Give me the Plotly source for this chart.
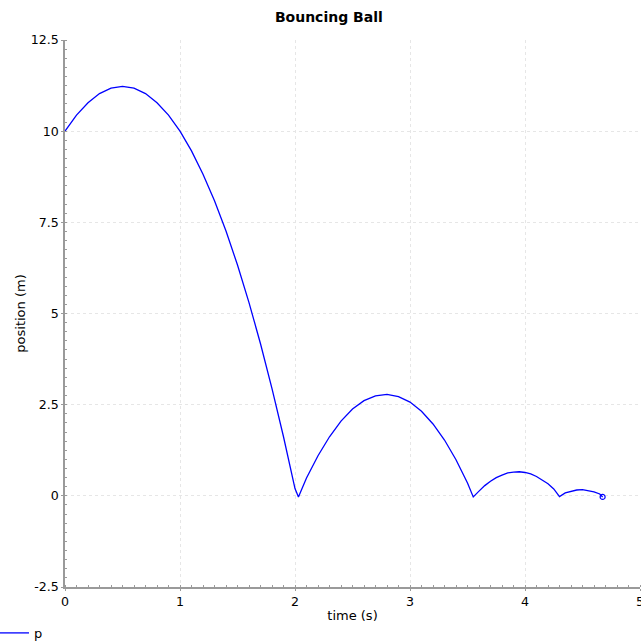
import plotly.graph_objects as go

# time (s) and position (m)
t = [0.0, 0.1, 0.2, 0.3, 0.4, 0.5, 0.6, 0.7, 0.8, 0.9, 1.0,
     1.1, 1.2, 1.3, 1.4, 1.5, 1.6, 1.7, 1.8, 1.9, 2.0, 2.03,
     2.1, 2.2, 2.3, 2.4, 2.5, 2.6, 2.7, 2.8, 2.9, 3.0,
     3.1, 3.2, 3.3, 3.4, 3.5, 3.55,
     3.6, 3.65, 3.7, 3.75, 3.8, 3.85, 3.9, 3.95, 4.0, 4.05,
     4.1, 4.15, 4.2, 4.25, 4.3,
     4.35, 4.4, 4.45, 4.5, 4.55, 4.6, 4.65, 4.675]
p = [10.0, 10.44, 10.78, 11.03, 11.18, 11.23, 11.18, 11.03, 10.78, 10.44, 10.0,
     9.46, 8.82, 8.09, 7.26, 6.33, 5.30, 4.17, 2.94, 1.62, 0.20, -0.03,
     0.49, 1.10, 1.62, 2.05, 2.38, 2.61, 2.74, 2.78, 2.72, 2.57,
     2.32, 1.97, 1.53, 0.99, 0.35, -0.03,
     0.13, 0.28, 0.40, 0.50, 0.57, 0.63, 0.65, 0.66, 0.64, 0.60,
     0.53, 0.44, 0.33, 0.19, -0.02,
     0.08, 0.13, 0.16, 0.17, 0.15, 0.11, 0.05, -0.03]

x_ticks = [0, 1, 2, 3, 4, 5]
y_ticks = [-2.5, 0, 2.5, 5, 7.5, 10, 12.5]
y_tick_text = ["-2.5", "0", "2.5", "5", "7.5", "10", "12.5"]

FONT = "DejaVu Sans, Verdana, sans-serif"

fig = go.Figure()
fig.add_trace(go.Scatter(
    x=t, y=p, mode="lines", name="p",
    line=dict(color="#0000ff", width=1.3),
))
fig.add_trace(go.Scatter(
    x=[t[-1]], y=[p[-1]], mode="markers", showlegend=False,
    marker=dict(symbol="circle-open", size=5, color="#0000ff", line=dict(width=1.2)),
))

axis_common = dict(
    showline=True, linecolor="#9a9a9a", linewidth=1.5,
    showgrid=True, gridcolor="#e6e6e6", griddash="3px,3px", gridwidth=1,
    zeroline=False, ticks="outside", ticklen=2, tickcolor="#9a9a9a",
    tickfont=dict(family=FONT, size=12.6, color="#000000"),
    ticklabeloverflow="allow",
    mirror=False,
)

fig.update_xaxes(
    range=[0, 5], tickvals=x_ticks, ticktext=[str(v) for v in x_ticks],
    title=dict(text="time (s)", font=dict(family=FONT, size=13, color="#000"), standoff=3),
    minor=dict(dtick=0.1, ticks="inside", ticklen=2, tickcolor="#9a9a9a", showgrid=False),
    **axis_common,
)
fig.update_yaxes(
    range=[-2.5, 12.5], tickvals=y_ticks, ticktext=y_tick_text,
    title=dict(text="position (m)", font=dict(family=FONT, size=13, color="#000"), standoff=2),
    minor=dict(dtick=0.25, ticks="inside", ticklen=2, tickcolor="#9a9a9a", showgrid=False),
    **axis_common,
)

fig.update_layout(
    width=641, height=642,
    margin=dict(l=65, r=1, t=40, b=55, autoexpand=False),
    paper_bgcolor="#ffffff", plot_bgcolor="#ffffff",
    title=dict(text="<b>Bouncing Ball</b>", x=0.513, xanchor="center", y=0.973, yanchor="middle",
               font=dict(family=FONT, size=14, color="#000")),
    showlegend=True,
    legend=dict(orientation="h", x=-0.1235, xanchor="left", y=-0.084, yanchor="middle",
                font=dict(family=FONT, size=13, color="#000"), itemwidth=30,
                bgcolor="rgba(0,0,0,0)"),
)

fig.write_html("out.html")
